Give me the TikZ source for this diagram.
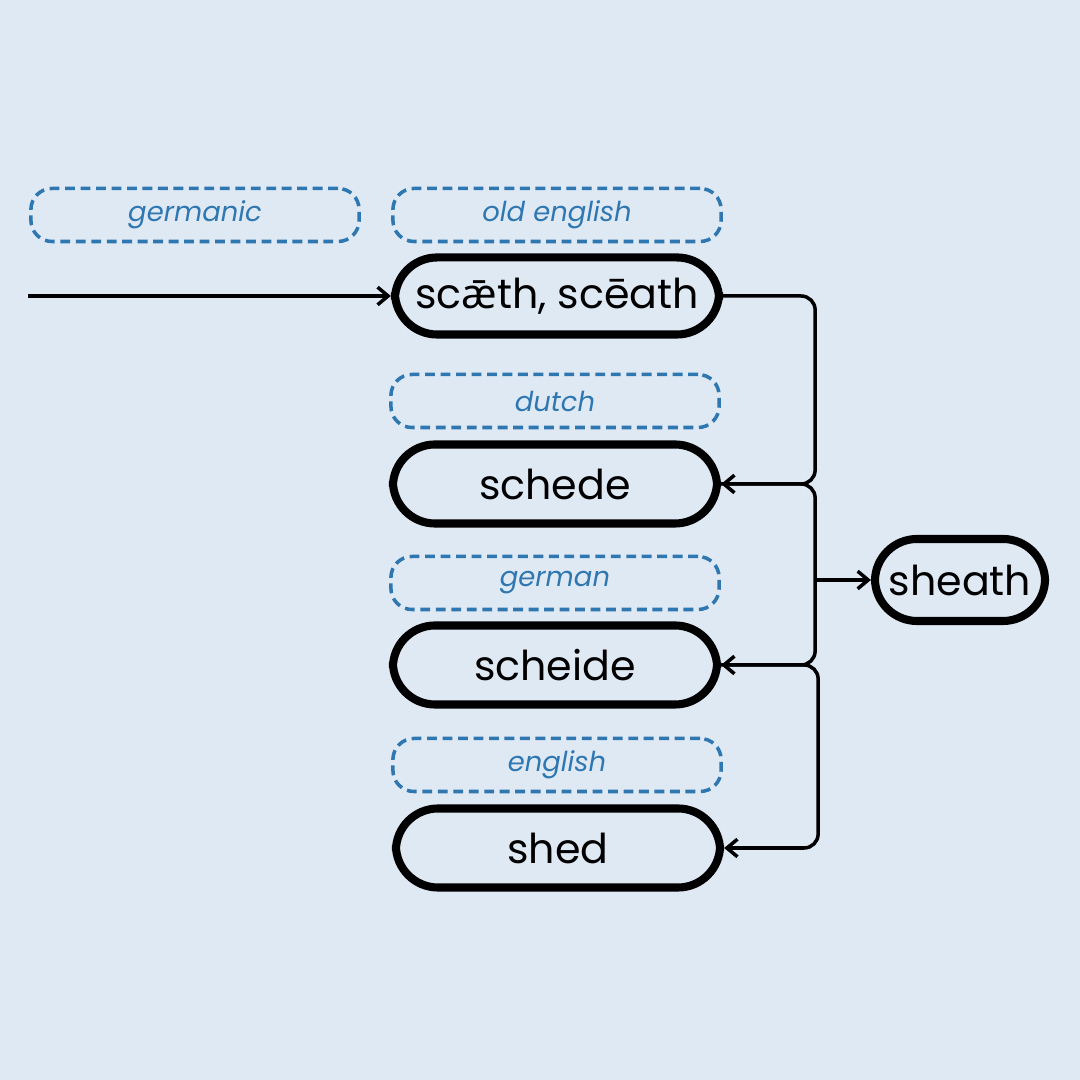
\documentclass[tikz,border=0pt]{standalone}
\usepackage{fontspec}
\setmainfont{Poppins}
\newfontfamily\extfont{Noto Sans}
\usetikzlibrary{arrows.meta}
\definecolor{bgblue}{HTML}{DFE9F4}
\definecolor{tagblue}{HTML}{2F77B1}

\begin{document}
\begin{tikzpicture}[x=0.01cm,y=0.01cm,
        word/.style={draw=black, line width=2.3pt, rounded corners=12pt,
            minimum width=3.24cm, minimum height=0.79cm, inner sep=0pt,
            font=\fontsize{11.7}{14}\selectfont},
        tag/.style={draw=tagblue, line width=1pt, dash pattern=on 2.8pt off 1.6pt,
            rounded corners=6pt, minimum width=3.28cm, minimum height=0.53cm,
            inner sep=0pt, text=tagblue, font=\fontsize{7.8}{9}\selectfont\itshape},
        link/.style={line width=1pt, rounded corners=4pt,
            -{Straight Barb[length=3pt,width=5pt,line width=1pt]}}]
        \fill[bgblue] (0,0) rectangle (1080,1080);

        % language tags
        \node[tag] (germanic) at (195,865) {germanic};
        \node[tag] (oldeng) at (557,865) {old english};
        \node[tag] (dutch) at (555,679) {dutch};
        \node[tag] (german) at (555,497) {german};
        \node[tag] (english) at (557,315) {english};

        % words
        \node[word, minimum height=0.77cm] (scaeth) at (557,784) {sc{\extfont ǣ}th, scēath};
        \node[word] (schede) at (555,596) {schede};
        \node[word] (scheide) at (555,415) {scheide};
        \node[word] (shed) at (558,232) {shed};
        \node[word, minimum width=1.7cm, minimum height=0.82cm, rounded corners=12pt] (sheath) at (960,500) {sheath};

        \coordinate (origin) at (28,784);
        \coordinate (split) at (815,500);

        \draw[link] (origin) -- (scaeth.west);
        \draw[link] (scaeth.east) -- ++(92,0) |- (schede.east);
        \draw[link] (schede.east) -- ++(94,0) |- (scheide.east);
        \draw[link] (scheide.east) -- ++(97,0) |- (shed.east);
        \draw[link] (split) -- (sheath.west);
    \end{tikzpicture}
\end{document}
